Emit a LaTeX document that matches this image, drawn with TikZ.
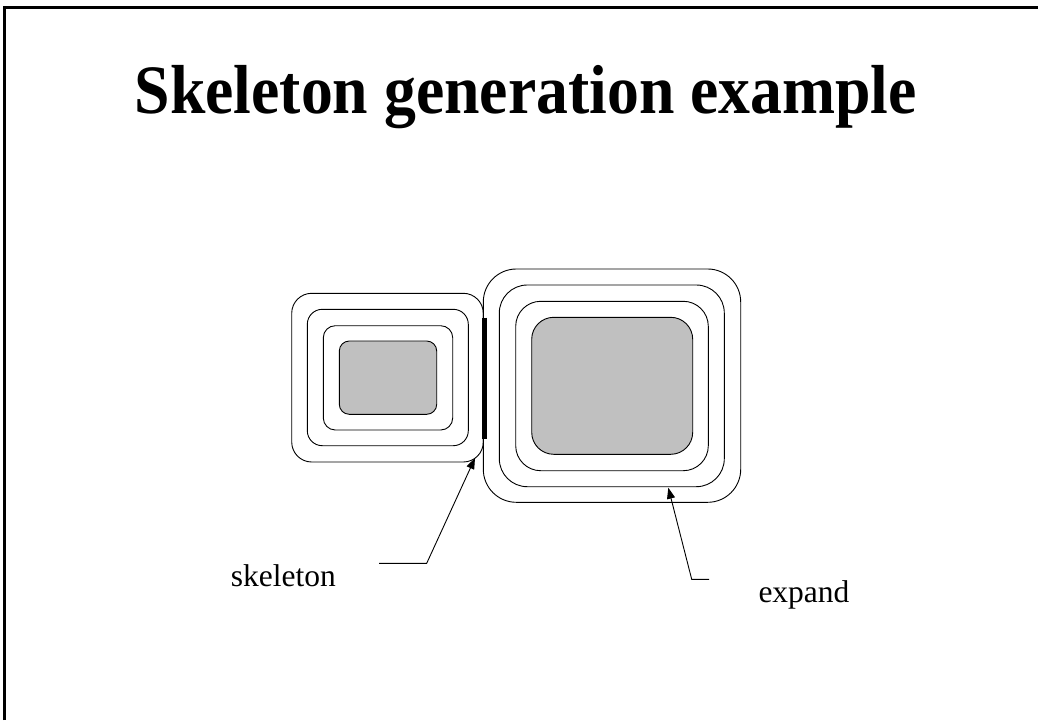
\documentclass[tikz,border=0pt]{standalone}
\usepackage{fontspec}
\setmainfont{Liberation Serif}
\usetikzlibrary{arrows.meta}
\definecolor{core}{HTML}{C0C0C0}
\tikzset{
  ring/.style={draw=black, line width=0.9pt},
  seed/.style={draw=black, fill=core, line width=0.9pt},
  pointer/.style={draw=black, line width=0.9pt, {Triangle[length=11pt,width=8pt]}-},
  label/.style={anchor=base west, inner sep=0pt, font=\fontsize{31.5}{36}\selectfont},
}
\begin{document}
\begin{tikzpicture}[x=1pt,y=-1pt]
\useasboundingbox (0,0) rectangle (1038,720);
% slide frame (only the top and left edges fall inside the page)
\draw[line width=2.2pt] (4.5,720) -- (4.5,7.5) -- (1038,7.5);
% title
\node[anchor=base west, inner sep=0pt] (title) at (134.5,113.3)
  {\scalebox{0.937}[1.02]{\fontsize{68}{70}\selectfont\bfseries Skeleton generation example}};

% left object: grey core and its three expansions
\draw[seed, rounded corners=10pt] (339.3,341) rectangle (436.7,414.3);
\draw[ring, rounded corners=12pt] (323.3,325.7) rectangle (452.7,430);
\draw[ring, rounded corners=15pt] (307.3,309.3) rectangle (468.3,445.7);
\draw[ring, rounded corners=20pt] (291.7,293.3) rectangle (483.3,462);

% right object: grey core and its three expansions
\draw[seed, rounded corners=22pt] (531.7,317.3) rectangle (692.7,454.3);
\draw[ring, rounded corners=25pt] (515.7,301.3) rectangle (708.3,470.7);
\draw[ring, rounded corners=28pt] (499.3,285) rectangle (724.3,486.7);
\draw[ring, rounded corners=33pt] (483.3,269) rectangle (740.7,502.3);

% skeleton segment where the two expansions meet
\coordinate (skA) at (484,317.7);
\coordinate (skB) at (484,439);
\draw[line width=5pt] (skA) -- (skB);

% labels
\node[label] (skel) at (230.7,586.7) {skeleton};
\node[label] (expd) at (758.3,602.3) {expand};

% leader lines
\coordinate (skTip) at (475,458);
\coordinate (skBend) at (426.7,563.3);
\coordinate (skEnd) at (379,563.3);
\draw[pointer] (skTip) -- (skBend) -- (skEnd);

\coordinate (exTip) at (668.3,487.7);
\coordinate (exBend) at (691.7,579.3);
\coordinate (exEnd) at (709,579.3);
\draw[pointer] (exTip) -- (exBend) -- (exEnd);
\end{tikzpicture}
\end{document}
